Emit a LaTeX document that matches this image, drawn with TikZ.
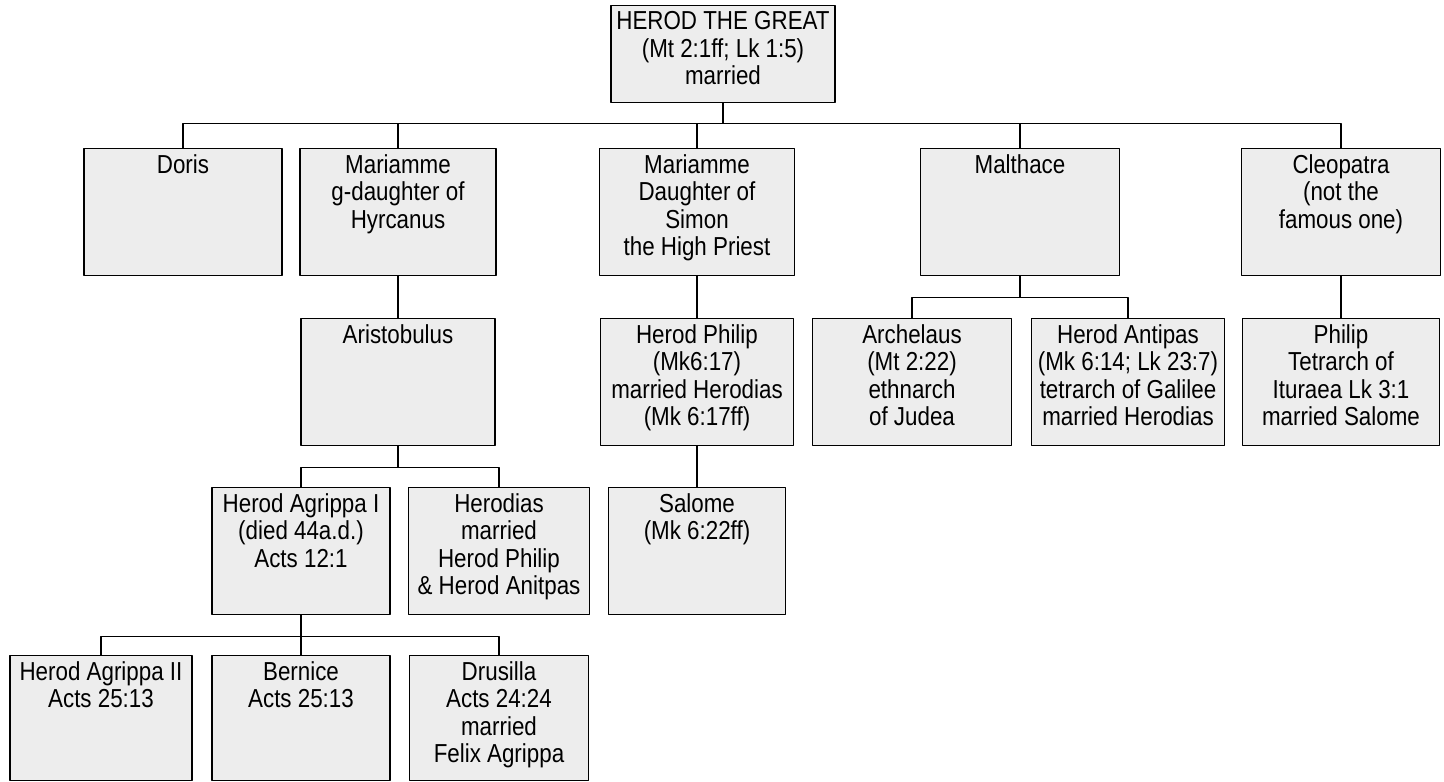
\documentclass[tikz,border=0pt]{standalone}
\usepackage{fontspec}
\setmainfont{Liberation Sans}[FakeStretch=0.86]
\begin{document}
\begin{tikzpicture}[x=1pt,y=-1pt,line join=round,line cap=round,font=\fontsize{26}{27.5}\selectfont,
	pbox/.style={draw,line width=1.5pt,fill=gray!14,minimum width=#1,minimum height=127,inner sep=0pt},
	lab/.style={anchor=north,align=center,inner sep=6.5pt}]
	\useasboundingbox (0,0) rectangle (1444,782);
	\node[pbox=224,minimum height=97,label={[lab]north:{HEROD THE GREAT\\(Mt 2:1ff; Lk 1:5)\\married}}] (herod) at (723,54) {};
	\node[pbox=198,label={[lab]north:{Doris}}] (doris) at (183,212) {};
	\node[pbox=196,label={[lab]north:{Mariamme\\g-daughter of\\Hyrcanus}}] (mariamA) at (398,212) {};
	\node[pbox=195,label={[lab]north:{Mariamme\\Daughter of\\Simon\\the High Priest}}] (mariamB) at (697,212) {};
	\node[pbox=199,label={[lab]north:{Malthace}}] (malthace) at (1020,212) {};
	\node[pbox=199,label={[lab]north:{Cleopatra\\(not the\\famous one)}}] (cleopatra) at (1341,212) {};
	\node[pbox=194,label={[lab]north:{Aristobulus}}] (aristobulus) at (398,382) {};
	\node[pbox=193,label={[lab]north:{Herod Philip\\(Mk6:17)\\married Herodias\\(Mk 6:17ff)}}] (herodphilip) at (697,382) {};
	\node[pbox=199,label={[lab]north:{Archelaus\\(Mt 2:22)\\ethnarch\\of Judea}}] (archelaus) at (912,382) {};
	\node[pbox=193,label={[lab]north:{Herod Antipas\\(Mk 6:14; Lk 23:7)\\tetrarch of Galilee\\married Herodias}}] (antipas) at (1128,382) {};
	\node[pbox=197,label={[lab]north:{Philip\\Tetrarch of\\Ituraea Lk 3:1\\married Salome}}] (philip) at (1341,382) {};
	\node[pbox=178,label={[lab]north:{Herod Agrippa I\\(died 44a.d.)\\Acts 12:1}}] (agrippaI) at (301,551) {};
	\node[pbox=181,label={[lab]north:{Herodias\\married\\Herod Philip\\\& Herod Anitpas}}] (herodias) at (499,551) {};
	\node[pbox=177,label={[lab]north:{Salome\\(Mk 6:22ff)}}] (salome) at (697,551) {};
	\node[pbox=182,minimum height=125,label={[lab]north:{Herod Agrippa II\\Acts 25:13}}] (agrippaII) at (101,718) {};
	\node[pbox=178,minimum height=125,label={[lab]north:{Bernice\\Acts 25:13}}] (bernice) at (301,718) {};
	\node[pbox=179,minimum height=125,label={[lab]north:{Drusilla\\Acts 24:24\\married\\Felix Agrippa}}] (drusilla) at (499,718) {};
	\draw[line width=1.2pt] (herod.south) -- ++(0,20) -| (doris.north)
		(herod.south) ++(0,20) -| (mariamA.north)
		(herod.south) ++(0,20) -| (mariamB.north)
		(herod.south) ++(0,20) -| (malthace.north)
		(herod.south) ++(0,20) -| (cleopatra.north);
	\draw[line width=1.2pt] (mariamA.south) -- (aristobulus.north)
		(mariamB.south) -- (herodphilip.north) (herodphilip.south) -- (salome.north)
		(cleopatra.south) -- (philip.north);
	\draw[line width=1.2pt] (malthace.south) -- ++(0,21) -| (archelaus.north)
		(malthace.south) ++(0,21) -| (antipas.north);
	\draw[line width=1.2pt] (aristobulus.south) -- ++(0,21) -| (agrippaI.north)
		(aristobulus.south) ++(0,21) -| (herodias.north);
	\draw[line width=1.2pt] (agrippaI.south) -- ++(0,21) -| (agrippaII.north)
		(agrippaI.south) ++(0,21) -| (bernice.north)
		(agrippaI.south) ++(0,21) -| (drusilla.north);
\end{tikzpicture}
\end{document}
